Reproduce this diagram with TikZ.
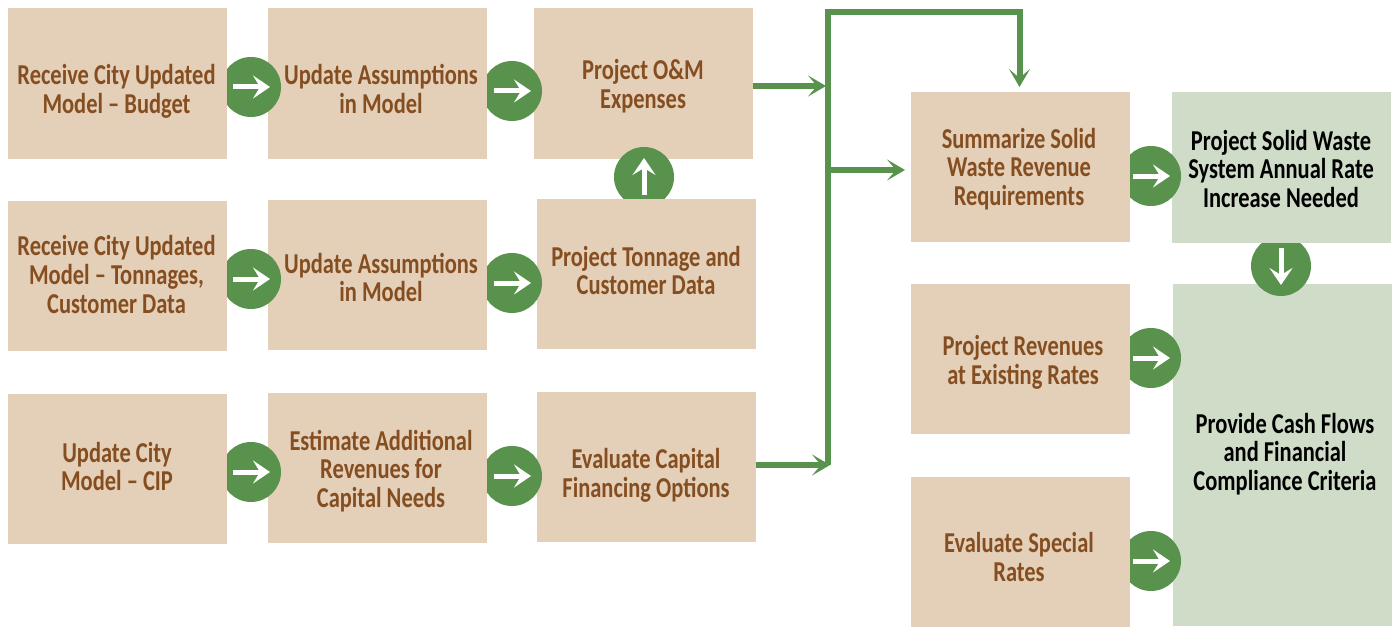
\documentclass[tikz,border=0pt]{standalone}
\usepackage{xcolor}
\usepackage{fontspec}
\setmainfont{Carlito}[BoldFont=Carlito Bold,BoldFeatures={FakeStretch=0.78}]
\usetikzlibrary{arrows.meta}
\definecolor{tanfill}{HTML}{E4CFB8}
\definecolor{palegreen}{HTML}{CFDCC8}
\definecolor{leaf}{HTML}{58924C}
\definecolor{bark}{HTML}{854E20}
\tikzset{
	tanbox/.style={
		fill=tanfill,
		inner sep=0,
		minimum width=109.5pt,
		minimum height=75pt
	},
	greenbox/.style={tanbox,fill=palegreen},
	tanlabel/.style={
		text=bark,
		align=center,
		font=\bfseries\fontsize{14.4pt}{14.4pt}\selectfont
	},
	greenlabel/.style={tanlabel,text=black},
	badge/.style={circle,fill=leaf,inner sep=0,minimum size=30pt},
	whitearrow/.style={draw=white,line width=2.5pt,-{Stealth[length=8.5pt,width=11.5pt,inset=3.5pt]}},
	greenline/.style={draw=leaf,line width=3pt,line join=miter},
	greenarrow/.style={greenline,-{Stealth[length=9pt,width=10.5pt,inset=4.5pt]}}
}

\begin{document}
\begin{tikzpicture}[x=0.5pt,y=-0.5pt]
	\useasboundingbox (0,0) rectangle (1396,626);

	% right hand column
	\node[greenbox,minimum height=171pt] (compliance) at (1282,455) {};
	\node[badge] (b11) at (1281,266) {};
	\draw[whitearrow] ([yshift=9pt]b11.center) -- ([yshift=-9.5pt]b11.center);
	\node[greenbox] (rate) at (1281.5,167.5) {};
	\node[badge] (b8) at (1151,176) {};
	\draw[whitearrow] ([xshift=-9pt]b8.center) -- ([xshift=9.5pt]b8.center);
	\node[badge] (b9) at (1151,358) {};
	\draw[whitearrow] ([xshift=-9pt]b9.center) -- ([xshift=9.5pt]b9.center);
	\node[badge] (b10) at (1151,561) {};
	\draw[whitearrow] ([xshift=-9pt]b10.center) -- ([xshift=9.5pt]b10.center);
	\node[tanbox] (summarize) at (1020.5,167) {};
	\node[tanbox] (existing) at (1020.5,358.5) {};
	\node[tanbox] (special) at (1020.5,552) {};

	% third column
	\node[tanbox] (om) at (643.5,83.5) {};
	\node[badge] (b7) at (644,177) {};
	\draw[whitearrow] ([yshift=-9pt]b7.center) -- ([yshift=9.5pt]b7.center);
	\node[tanbox] (tonnage) at (646.5,274) {};
	\node[tanbox] (capital) at (646.5,467) {};
	\node[badge] (b4) at (512,91) {};
	\draw[whitearrow] ([xshift=-9pt]b4.center) -- ([xshift=9.5pt]b4.center);
	\node[badge] (b5) at (512,283) {};
	\draw[whitearrow] ([xshift=-9pt]b5.center) -- ([xshift=9.5pt]b5.center);
	\node[badge] (b6) at (512,476) {};
	\draw[whitearrow] ([xshift=-9pt]b6.center) -- ([xshift=9.5pt]b6.center);

	% second column
	\node[tanbox] (assume1) at (377.75,83.5) {};
	\node[tanbox] (assume2) at (377.75,275) {};
	\node[tanbox] (revenues) at (377.75,468) {};
	\node[badge] (b1) at (251,87) {};
	\draw[whitearrow] ([xshift=-9pt]b1.center) -- ([xshift=9.5pt]b1.center);
	\node[badge] (b2) at (251,279) {};
	\draw[whitearrow] ([xshift=-9pt]b2.center) -- ([xshift=9.5pt]b2.center);
	\node[badge] (b3) at (251,472) {};
	\draw[whitearrow] ([xshift=-9pt]b3.center) -- ([xshift=9.5pt]b3.center);

	% first column
	\node[tanbox] (budget) at (117.5,83.5) {};
	\node[tanbox] (customer) at (117.5,276) {};
	\node[tanbox] (cip) at (117.5,469) {};

	% green bus
	\coordinate (bustop) at (827.5,12.5);
	\coordinate (busbottom) at (827.5,465);
	\coordinate (bustee) at (827.5,170);
	\coordinate (busturn) at (1019.5,12.5);
	\coordinate (omin) at (826,86);
	\coordinate (capin) at (830,465);
	\coordinate (omout) at (753,86);
	\coordinate (capout) at (756,465);
	\coordinate (sumtop) at (1019.5,87);
	\coordinate (sumleft) at (905,170);
	\draw[greenarrow] (busbottom) -- (bustop) -- (busturn) -- (sumtop);
	\draw[greenarrow] (omout) -- (omin);
	\draw[greenarrow] (capout) -- (capin);
	\draw[greenarrow] (bustee) -- (sumleft);

	% texts
	\node[tanlabel] (t1) at (116.5,91.5) {Receive City Updated\\Model -- Budget};
	\node[tanlabel] (t2) at (381,89) {Update Assumptions\\in Model};
	\node[tanlabel] (t3) at (643,86) {Project O\&M\\Expenses};
	\node[tanlabel] (t4) at (116.5,274.5) {Receive City Updated\\Model -- Tonnages,\\Customer Data};
	\node[tanlabel] (t5) at (381,277.5) {Update Assumptions\\in Model};
	\node[tanlabel] (t6) at (646,270.5) {Project Tonnage and\\Customer Data};
	\node[tanlabel] (t7) at (117,466.5) {Update City\\Model -- CIP};
	\node[tanlabel] (t8) at (381,471) {Estimate Additional\\Revenues for\\Capital Needs};
	\node[tanlabel] (t9) at (646,475) {Evaluate Capital\\Financing Options};
	\node[tanlabel] (t10) at (1019,169) {Summarize Solid\\Waste Revenue\\Requirements};
	\node[tanlabel] (t11) at (1023,362) {Project Revenues\\at Existing Rates};
	\node[tanlabel] (t12) at (1019,557) {Evaluate Special\\Rates};
	\node[greenlabel] (t13) at (1281,169) {Project Solid Waste\\System Annual Rate\\Increase Needed};
	\node[greenlabel] (t14) at (1285,454) {Provide Cash Flows\\and Financial\\Compliance Criteria};
\end{tikzpicture}
\end{document}
